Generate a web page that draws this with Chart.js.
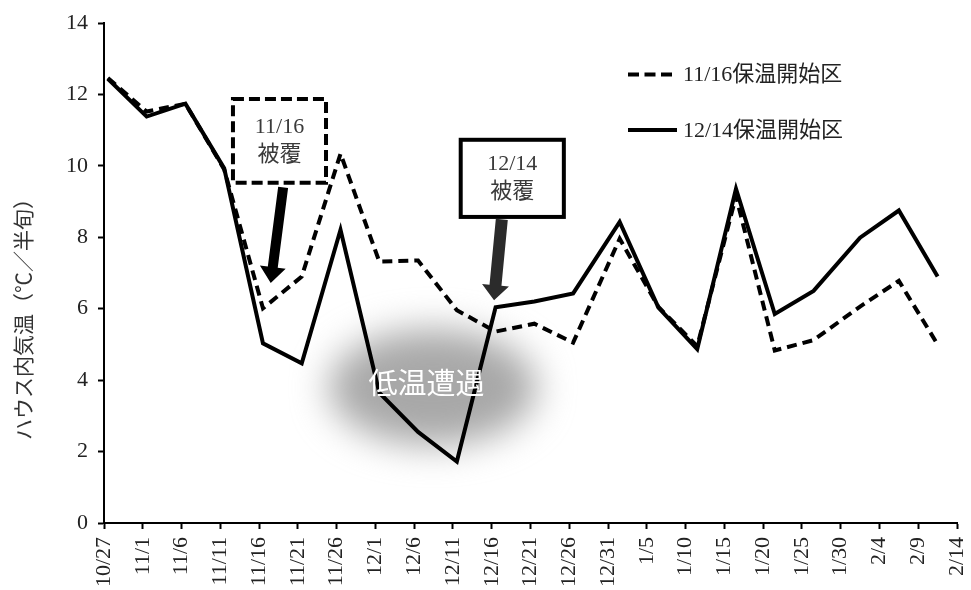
<!DOCTYPE html>
<html>
<head>
<meta charset="utf-8">
<script src="https://cdn.jsdelivr.net/npm/chart.js@4.4.1/dist/chart.umd.min.js"></script>
<style>
  html, body { margin: 0; padding: 0; background: #fff; }
  canvas { display: block; }
</style>
</head>
<body>
<canvas id="c" width="971" height="590"></canvas>
<script>
// 半旬 (5-day period) start dates
const periodDates = ['10/27','11/1','11/6','11/11','11/16','11/21','11/26','12/1','12/6','12/11',
  '12/16','12/21','12/26','1/1','1/6','1/11','1/16','1/21','1/26','2/1','2/6','2/11'];

// ハウス内気温 (℃, 半旬平均)
const temp1116 = [12.46, 11.52, 11.74, 9.90, 6.01, 6.90, 10.34, 7.32, 7.35, 5.96,
  5.36, 5.58, 5.05, 7.96, 6.05, 4.95, 9.15, 4.83, 5.12, 6.06, 6.78, 5.00];
const temp1214 = [12.44, 11.38, 11.74, 9.93, 5.03, 4.47, 8.21, 3.65, 2.55, 1.72,
  6.04, 6.20, 6.43, 8.43, 6.03, 4.87, 9.36, 5.85, 6.50, 7.99, 8.75, 6.90];

const seriesNames = ['11/16保温開始区', '12/14保温開始区'];

// date axis labels, every 5 days
const tickLabels = ['10/27','11/1','11/6','11/11','11/16','11/21','11/26','12/1','12/6','12/11',
  '12/16','12/21','12/26','12/31','1/5','1/10','1/15','1/20','1/25','1/30','2/4','2/9','2/14'];

const yTitle = 'ハウス内気温（℃／半旬）';

// days since 10/27 for an 'M/D' string; the season runs across new year
function dayOf(label) {
  const [m, d] = label.split('/').map(Number);
  const year = m >= 10 ? 2000 : 2001;
  return Math.round((Date.UTC(year, m - 1, d) - Date.UTC(2000, 9, 27)) / 86400000);
}
const tickDays = tickLabels.map(dayOf);
const axisMax = tickDays[tickDays.length - 1];

// each date is plotted in the middle of its one-day slot
function toPoints(values) {
  return values.map((v, i) => ({ x: dayOf(periodDates[i]) + 0.5, y: v }));
}

const SERIF = "'Liberation Serif', 'Noto Sans CJK JP', serif";
const JP = "'Liberation Serif', 'Noto Sans CJK JP', sans-serif";

function drawArrow(ctx, x0, y0, x1, y1, shaft, headW, headL, color) {
  const dx = x1 - x0, dy = y1 - y0, len = Math.hypot(dx, dy);
  const ux = dx / len, uy = dy / len, nx = -uy, ny = ux;
  const bx = x1 - ux * headL, by = y1 - uy * headL;
  ctx.beginPath();
  ctx.moveTo(x0 + nx * shaft / 2, y0 + ny * shaft / 2);
  ctx.lineTo(bx + nx * shaft / 2, by + ny * shaft / 2);
  ctx.lineTo(bx + nx * headW / 2, by + ny * headW / 2);
  ctx.lineTo(x1, y1);
  ctx.lineTo(bx - nx * headW / 2, by - ny * headW / 2);
  ctx.lineTo(bx - nx * shaft / 2, by - ny * shaft / 2);
  ctx.lineTo(x0 - nx * shaft / 2, y0 - ny * shaft / 2);
  ctx.closePath();
  ctx.fillStyle = color;
  ctx.fill();
}

function drawNoteBox(ctx, x, y, x2, y2, dashed, lines) {
  ctx.save();
  ctx.fillStyle = '#fff';
  ctx.fillRect(x, y, x2 - x, y2 - y);
  ctx.lineWidth = 4;
  ctx.strokeStyle = '#000';
  ctx.lineJoin = 'miter';
  ctx.setLineDash(dashed ? [11, 5] : []);
  ctx.strokeRect(x, y, x2 - x, y2 - y);
  ctx.setLineDash([]);
  ctx.fillStyle = '#3a3a3a';
  ctx.font = '22px ' + JP;
  ctx.textAlign = 'center';
  ctx.textBaseline = 'middle';
  const cx = (x + x2) / 2, cy = (y + y2) / 2;
  ctx.fillText(lines[0], cx, cy - 14);
  ctx.fillText(lines[1], cx, cy + 14);
  ctx.restore();
}

const decor = {
  id: 'decor',
  beforeDatasetsDraw(chart) {
    const { ctx, scales: { x, y } } = chart;
    // soft shaded patch marking the cold spell
    const cx = x.getPixelForValue(42.4), cy = y.getPixelForValue(3.8);
    ctx.save();
    ctx.filter = 'blur(18px)';
    ctx.fillStyle = '#a8a8a8';
    ctx.beginPath();
    ctx.ellipse(cx, cy, 104, 58, 0, 0, Math.PI * 2);
    ctx.fill();
    ctx.restore();
  },
  afterDatasetsDraw(chart) {
    const { ctx, scales: { x, y } } = chart;
    const px = v => x.getPixelForValue(v), py = v => y.getPixelForValue(v);

    // label on the shaded patch
    ctx.save();
    ctx.fillStyle = '#fff';
    ctx.font = "29px 'Noto Sans CJK JP', sans-serif";
    ctx.textAlign = 'center';
    ctx.textBaseline = 'middle';
    ctx.fillText('低温遭遇', px(41.6), py(3.92));
    ctx.restore();

    // covering dates with arrows
    drawNoteBox(ctx, px(16.63), py(11.87), px(28.63), py(9.53), true, ['11/16', '被覆']);
    drawArrow(ctx, px(23.1), py(9.4), px(21.5), py(6.72), 10, 26, 16, '#000');
    drawNoteBox(ctx, px(46.0), py(10.73), px(59.3), py(8.57), false, ['12/14', '被覆']);
    drawArrow(ctx, px(51.3), py(8.5), px(50.3), py(6.24), 12, 27, 15, '#2b2b2b');

    // legend
    ctx.save();
    ctx.strokeStyle = '#000';
    ctx.lineWidth = 4;
    ctx.lineCap = 'butt';
    ctx.setLineDash([11, 5.5]);
    ctx.beginPath(); ctx.moveTo(628, 74.5); ctx.lineTo(673, 74.5); ctx.stroke();
    ctx.setLineDash([]);
    ctx.beginPath(); ctx.moveTo(628, 130); ctx.lineTo(677, 130); ctx.stroke();
    ctx.fillStyle = '#222';
    ctx.font = '22px ' + JP;
    ctx.textAlign = 'left';
    ctx.textBaseline = 'middle';
    ctx.fillText(seriesNames[0], 683, 75);
    ctx.fillText(seriesNames[1], 683, 131);
    ctx.restore();

    // y axis title
    ctx.save();
    ctx.translate(23, 314);
    ctx.rotate(-Math.PI / 2);
    ctx.fillStyle = '#333';
    ctx.font = "21px 'Noto Sans CJK JP', sans-serif";
    ctx.textAlign = 'center';
    ctx.textBaseline = 'middle';
    ctx.fillText(yTitle, 0, 0);
    ctx.restore();
  }
};

new Chart(document.getElementById('c'), {
  type: 'line',
  data: {
    datasets: [
      {
        label: seriesNames[0],
        data: toPoints(temp1116),
        borderColor: '#000',
        borderWidth: 4,
        borderDash: [10, 6],
        pointRadius: 0,
        tension: 0,
        order: 1
      },
      {
        label: seriesNames[1],
        data: toPoints(temp1214),
        borderColor: '#000',
        borderWidth: 4,
        pointRadius: 0,
        tension: 0,
        order: 0
      }
    ]
  },
  options: {
    responsive: false,
    devicePixelRatio: 1,
    animation: false,
    layout: { padding: { left: 0, top: 23, right: 14, bottom: 0 } },
    plugins: { legend: { display: false }, tooltip: { enabled: false } },
    scales: {
      x: {
        type: 'linear',
        min: 0,
        max: axisMax,
        afterFit(scale) {
          scale.height = 67;
          scale.paddingLeft = 0;
          scale.paddingRight = 0;
        },
        afterBuildTicks(scale) { scale.ticks = tickDays.map(v => ({ value: v })); },
        ticks: {
          autoSkip: false,
          maxRotation: 90,
          minRotation: 90,
          padding: 8,
          color: '#222',
          font: { family: SERIF, size: 22 },
          callback: (v) => tickLabels[tickDays.indexOf(v)]
        },
        grid: { drawOnChartArea: false, drawTicks: true, tickLength: 6, tickWidth: 2, tickColor: '#000' },
        border: { display: true, color: '#000', width: 2 }
      },
      y: {
        min: 0,
        max: 14,
        afterFit(scale) {
          scale.width = 104;
          scale.paddingTop = 0;
          scale.paddingBottom = 0;
        },
        ticks: {
          stepSize: 2,
          padding: 10,
          color: '#222',
          font: { family: SERIF, size: 22 }
        },
        grid: { drawOnChartArea: false, drawTicks: true, tickLength: 6, tickWidth: 2, tickColor: '#000' },
        border: { display: true, color: '#000', width: 2 }
      }
    }
  },
  plugins: [decor]
});
</script>
</body>
</html>
